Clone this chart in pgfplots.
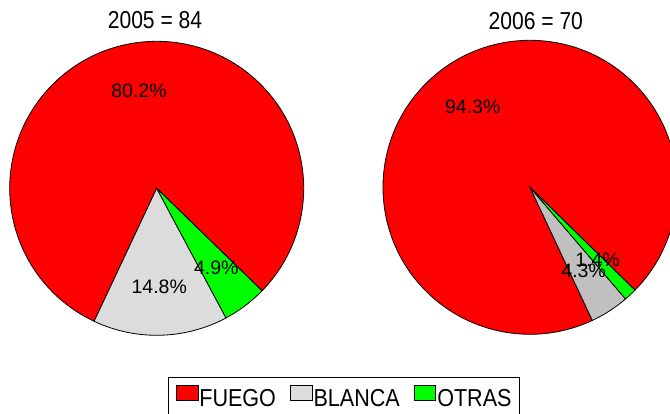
\documentclass[border=0pt]{standalone}
\usepackage{fontspec}
\setmainfont{Liberation Sans}
\newfontfamily\titfont[FakeStretch=0.86]{Liberation Sans}
\newfontfamily\legfont[FakeStretch=0.88]{Liberation Sans}
\usepackage{pgfplots}
\usepackage{pgfplotstable}
\pgfplotsset{compat=1.18}

\definecolor{fuego}{RGB}{255,0,0}
\definecolor{blancaA}{RGB}{220,220,220}
\definecolor{blancaB}{RGB}{192,192,192}
\definecolor{otras}{RGB}{0,255,0}

% porcentajes por causa
\pgfplotstableread{
cat    pct  col
FUEGO  80.2 fuego
BLANCA 14.8 blancaA
OTRAS  4.9  otras
}\datosA
\pgfplotstableread{
cat    pct  col
FUEGO  94.3 fuego
BLANCA 4.3  blancaB
OTRAS  1.4  otras
}\datosB

\def\radio{73.5pt}
\def\rlab{49.5pt}
\newcommand\fpct{\fontsize{9.75}{11}\selectfont}

% #1 tabla, #2 cx, #3 cy, #4 angulo inicial
\newcommand\pastel[4]{%
  \pgfplotstablegetrowsof{#1}\pgfmathtruncatemacro\nlast{\pgfplotsretval-1}%
  \def\suma{0}%
  \pgfplotsforeachungrouped \i in {0,...,\nlast}{%
    \pgfplotstablegetelem{\i}{pct}\of{#1}%
    \pgfmathsetmacro\suma{\suma+\pgfplotsretval}}%
  \def\ang{#4}%
  \pgfplotsforeachungrouped \i in {0,...,\nlast}{%
    \pgfplotstablegetelem{\i}{pct}\of{#1}\let\p\pgfplotsretval
    \pgfplotstablegetelem{\i}{col}\of{#1}\let\c\pgfplotsretval
    \pgfmathsetmacro\fin{\ang+\p/\suma*360}%
    \edef\tmp{\noexpand\filldraw[fill=\c,draw=black,line width=0.4pt]
      (axis cs:#2,#3) -- ++(\ang:\radio) arc[start angle=\ang,end angle=\fin,radius=\radio] -- cycle;}%
    \tmp
    \let\ang\fin}%
  \def\ang{#4}%
  \pgfplotsforeachungrouped \i in {0,...,\nlast}{%
    \pgfplotstablegetelem{\i}{pct}\of{#1}\let\p\pgfplotsretval
    \pgfmathsetmacro\fin{\ang+\p/\suma*360}%
    \pgfmathsetmacro\medio{(\ang+\fin)/2}%
    \edef\tmp{\noexpand\path (axis cs:#2,#3) ++(\medio:\rlab)
      node[font=\noexpand\fpct,inner sep=0pt] {\p\noexpand\%};}%
    \tmp
    \let\ang\fin}%
}

\begin{document}
\begin{tikzpicture}
\useasboundingbox (0,0) rectangle (335pt,206.5pt);
\clip (0,0) rectangle (335pt,206.5pt);
\begin{axis}[
  at={(0,0)}, anchor=south west,
  width=335pt, height=206.5pt, scale only axis,
  xmin=0, xmax=670, ymin=0, ymax=413,
  hide axis,
  legend columns=3,
  legend image code/.code={},
  legend style={at={(axis cs:343.7,36.3)}, anchor=north,
    draw=black, line width=0.4pt,
    inner xsep=3.8pt, inner ysep=4pt,
    font=\legfont\fontsize{12.25}{14}\selectfont,
    column sep=0.5pt,
    /tikz/every even column/.append style={column sep=7pt},
    nodes={inner xsep=0pt, inner ysep=0pt, text depth=3pt}},
]
\pastel{\datosA}{156.7}{224.7}{-44.2}
\pastel{\datosB}{530}{225.7}{-44.4}

\node[font=\titfont\fontsize{12.25}{14}\selectfont, anchor=base, inner sep=0pt]
  at (axis cs:155,384.7) {2005 = 84};
\node[font=\titfont\fontsize{12.25}{14}\selectfont, anchor=base, inner sep=0pt]
  at (axis cs:535.8,383) {2006 = 70};

\addlegendimage{legend image code/.code={\draw[fill=fuego,draw=black] (0pt,0pt) rectangle (10.85pt,7.5pt);}}
\addlegendentry{FUEGO}
\addlegendimage{legend image code/.code={\draw[fill=blancaA,draw=black] (0pt,0pt) rectangle (10.85pt,7.5pt);}}
\addlegendentry{BLANCA}
\addlegendimage{legend image code/.code={\draw[fill=otras,draw=black] (0pt,0pt) rectangle (10.85pt,7.5pt);}}
\addlegendentry{OTRAS}
\end{axis}
\end{tikzpicture}
\end{document}
